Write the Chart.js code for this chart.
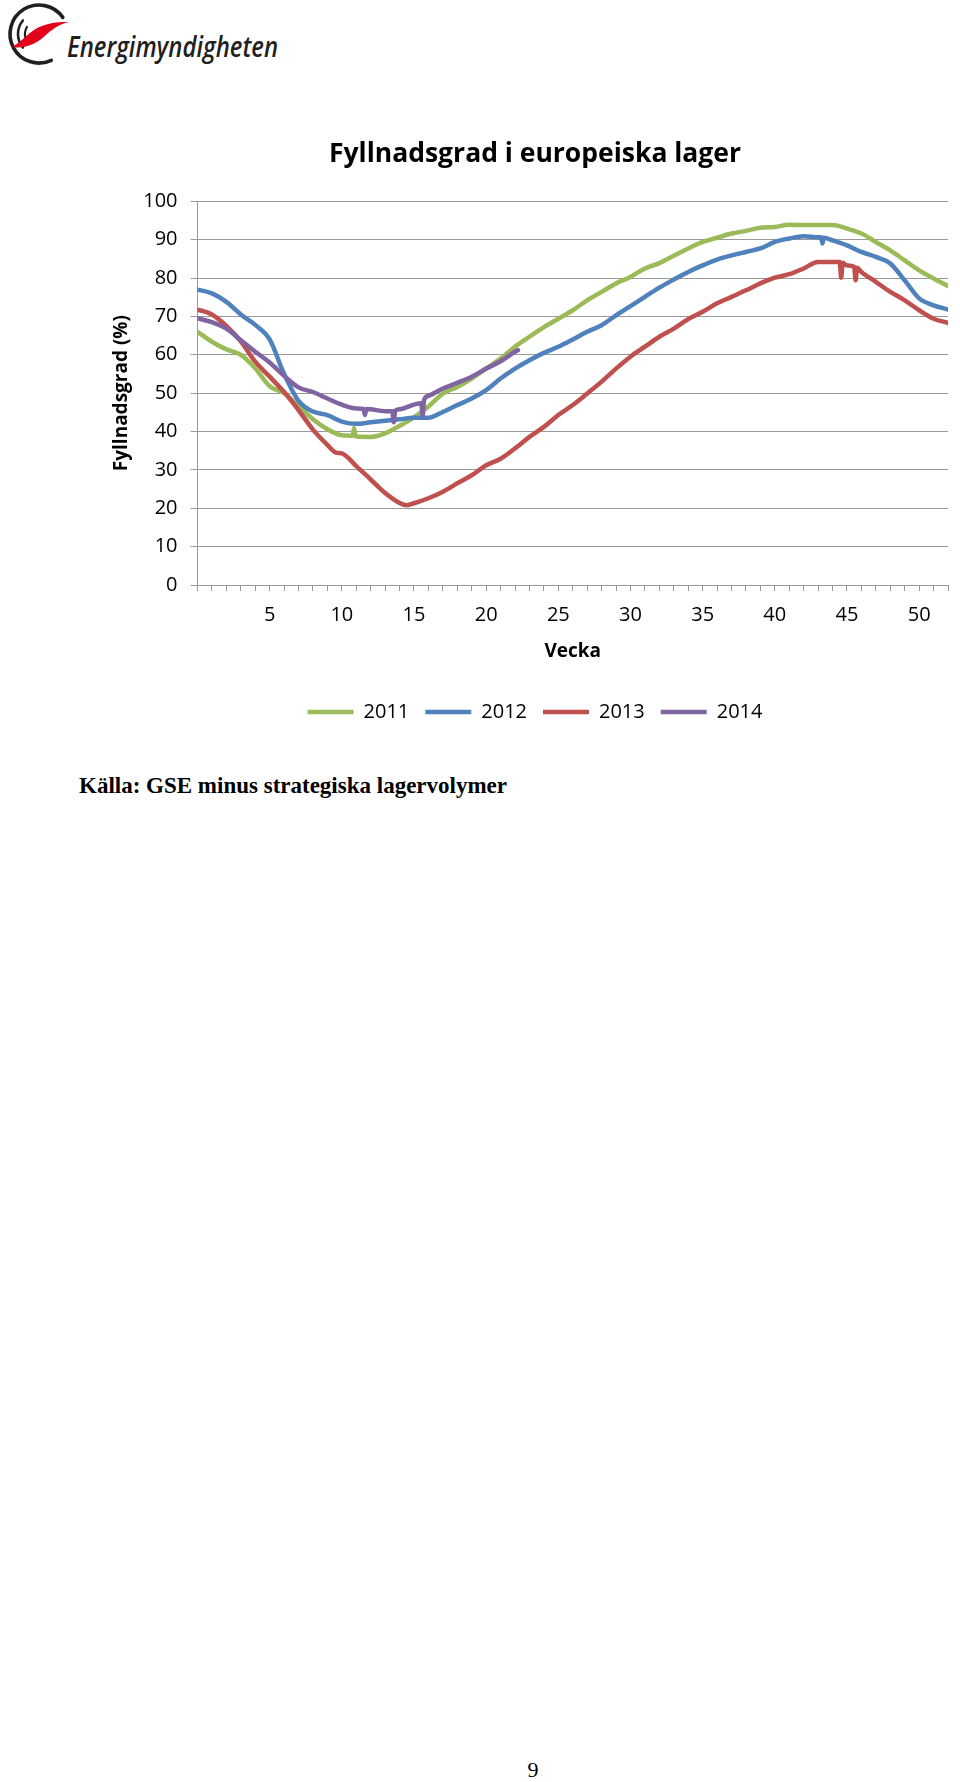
<!DOCTYPE html>
<html lang="sv">
<head>
<meta charset="utf-8">
<title>Fyllnadsgrad i europeiska lager</title>
<script src="https://cdn.jsdelivr.net/npm/chart.js@4.4.1/dist/chart.umd.min.js"></script>
<style>
  html, body { margin: 0; padding: 0; background: #fff; }
  #page { position: relative; width: 960px; height: 1782px; overflow: hidden; }
  #page svg { position: absolute; left: 0; top: 0; }
  #chartBox { position: absolute; left: 108px; top: 110px; width: 852px; height: 622px; }
</style>
</head>
<body>
<div id="page">
  <svg width="960" height="1782" viewBox="0 0 960 1782">
    <!-- logo -->
    <g fill="none" stroke="#231f20" stroke-linecap="round">
      <path d="M 62.8 17.4 A 29 29 0 1 0 51.3 60.3" stroke-width="3.6"/>
      <path d="M 22.9 20.5 A 21 21 0 0 0 22.9 47.5" stroke-width="2.6"/>
      <path d="M 26.9 27 A 14 14 0 0 0 26.9 41" stroke-width="2.2"/>
    </g>
    <path d="M 12 47 C 22 42, 30 30, 42 26 C 52 22, 60 22, 69 22 C 60 24, 54 28, 47 34 C 38 43, 26 49, 12 47 Z" fill="#e2001a"/>
    <text x="67" y="57" font-family="'Open Sans'" font-style="italic" font-weight="600" font-size="29" fill="#231f20" textLength="211" lengthAdjust="spacingAndGlyphs">Energimyndigheten</text>
    <!-- source + page number -->
    <text x="79" y="793" font-family="'Liberation Serif', 'Times New Roman', serif" font-weight="bold" font-size="23" fill="#000">Källa: GSE minus strategiska lagervolymer</text>
    <text x="533" y="1777" text-anchor="middle" font-family="'Liberation Serif', 'Times New Roman', serif" font-size="22" fill="#000">9</text>
  </svg>
  <div id="chartBox"><canvas id="fillChart" width="852" height="622"></canvas></div>
</div>

<script>
// veckor 0..52
var weeks = [];
for (var w = 0; w <= 52; w++) weeks.push(w);

var xTickLabels = [5, 10, 15, 20, 25, 30, 35, 40, 45, 50];

var fill2011 = [66, 63.4, 61.4, 60, 56.5, 51.8, 50, 46.6, 43.2, 40.6,
    39, 38.7, 38.6, 39.5, 41.5, 43.7, 46.5, 49.9, 51.6, 53.8,
    56.4, 59, 62.1, 64.7, 67.2, 69.4, 71.6, 74.2, 76.4, 78.6,
    80.3, 82.5, 83.9, 85.8, 87.7, 89.4, 90.5, 91.6, 92.3, 93.1,
    93.3, 93.9, 93.8, 93.8, 93.8, 92.9, 91.6, 89.4, 87.2, 84.6,
    82, 79.9, 77.9];

var fill2012 = [77, 76, 73.8, 70.5, 67.8, 64, 55, 48, 45.2, 44.3,
    42.6, 42, 42.4, 42.8, 43.2, 43.6, 43.6, 45.1, 46.9, 48.6,
    50.8, 53.8, 56.4, 58.6, 60.5, 62.1, 64, 66, 67.7, 70.3,
    72.7, 75.1, 77.5, 79.6, 81.6, 83.3, 84.8, 85.9, 86.8, 87.7,
    89.4, 90.3, 90.9, 90.6, 89.8, 88.5, 86.8, 85.5, 83.8, 79.4,
    74.7, 72.9, 71.8];

var fill2013 = [71.8, 70.5, 67.5, 63.5, 58.2, 54.3, 50.3, 45.6, 40.5, 36.5,
    34.3, 31, 27.5, 24, 21.4, 21.3, 22.6, 24.3, 26.5, 28.6,
    31.2, 32.9, 35.6, 38.6, 41.2, 44.3, 46.9, 49.9, 53, 56.4,
    59.5, 62.1, 64.7, 66.8, 69.3, 71.2, 73.4, 75.1, 76.8, 78.6,
    80.1, 81, 82.5, 84.2, 84.2, 83.3, 81.6, 79, 76.4, 74.2,
    71.6, 69.4, 68.3];

// 2014 bara t.o.m. vecka 22
var fill2014 = [69.5, 68.5, 66.8, 63.8, 60.8, 58, 54.5, 51.5, 50.3, 48.6,
    47, 46, 45.8, 45.3, 45.8, 47, 49.3, 51.2, 52.7, 54.3,
    56.4, 58.3, 60.8];

// enstaka dagsvärden (toppar/dippar) mellan veckorna: [vecka, värde]
var extra2011 = [[10.75, 38.9], [10.85, 40.9], [10.95, 38.8]];
var extra2012 = [[43.2, 90.6], [43.3, 89.0], [43.4, 90.5]];
var extra2013 = [[9.6, 34.5], [14.5, 20.8], [44.5, 84.2], [44.6, 80.1], [44.7, 84.0],
    [45.5, 82.9], [45.6, 79.4], [45.7, 82.7]];
var extra2014 = [[11.5, 45.9], [11.6, 44.3], [11.7, 45.9], [13.5, 45.3], [13.6, 42.4], [13.7, 45.4],
    [15.5, 47.4], [15.6, 44.2], [15.7, 48.2], [22.2, 61.2]];

function points(values, extra) {
    var pts = values.map(function (v, i) { return {x: weeks[i], y: v}; });
    extra.forEach(function (e) { pts.push({x: e[0], y: e[1]}); });
    return pts.sort(function (a, b) { return a.x - b.x; });
}

function line(label, data, color, order) {
    return {
        label: label,
        data: data,
        borderColor: color,
        backgroundColor: color,
        borderWidth: 4.5,
        borderCapStyle: 'round',
        borderJoinStyle: 'round',
        pointRadius: 0,
        pointHoverRadius: 0,
        cubicInterpolationMode: 'monotone',
        fill: false,
        order: order
    };
}

Chart.defaults.font.family = "'Open Sans', sans-serif";
Chart.defaults.color = '#000';

new Chart(document.querySelector('#fillChart'), {
    type: 'line',
    data: {
        datasets: [
            line('2011', points(fill2011, extra2011), '#9bbb59', 3),
            line('2012', points(fill2012, extra2012), '#4f81bd', 2),
            line('2013', points(fill2013, extra2013), '#c0504d', 1),
            line('2014', points(fill2014, extra2014), '#8064a2', 0)
        ]
    },
    options: {
        responsive: false,
        animation: false,
        layout: {padding: {left: 12, right: 10, top: 0, bottom: 0}},
        scales: {
            x: {
                type: 'linear',
                min: 0,
                max: 52,
                ticks: {
                    stepSize: 1,
                    autoSkip: false,
                    maxRotation: 0,
                    padding: 12,
                    font: {size: 20},
                    callback: function (v) { return xTickLabels.indexOf(v) >= 0 ? String(v) : ''; }
                },
                grid: {drawOnChartArea: false, tickLength: 6, color: '#999'},
                border: {color: '#999'},
                title: {
                    display: true,
                    text: 'Vecka',
                    font: {size: 19, weight: 'bold', lineHeight: 1.2},
                    padding: {top: 0, bottom: 23.5}
                },
                afterFit: function (s) { s.height = 101; }
            },
            y: {
                min: 0,
                max: 100,
                ticks: {stepSize: 10, padding: 13, font: {size: 20}},
                grid: {color: '#999', tickLength: 7},
                border: {color: '#999'},
                title: {
                    display: true,
                    text: 'Fyllnadsgrad (%)',
                    font: {size: 19, weight: 'bold', lineHeight: 1.2},
                    padding: {top: -9.4, bottom: 0}
                },
                afterFit: function (s) { s.width = 77.5; }
            }
        },
        plugins: {
            title: {
                display: true,
                text: 'Fyllnadsgrad i europeiska lager',
                font: {size: 26.5, weight: 'bold', lineHeight: 1.2},
                padding: {top: 29, bottom: 30.5}
            },
            legend: {
                position: 'bottom',
                labels: {
                    usePointStyle: true,
                    pointStyle: 'line',
                    pointStyleWidth: 46,
                    padding: 16,
                    font: {size: 20},
                    sort: function (a, b) { return a.datasetIndex - b.datasetIndex; }
                }
            },
            tooltip: {enabled: false}
        }
    }
});
</script>
</body>
</html>
